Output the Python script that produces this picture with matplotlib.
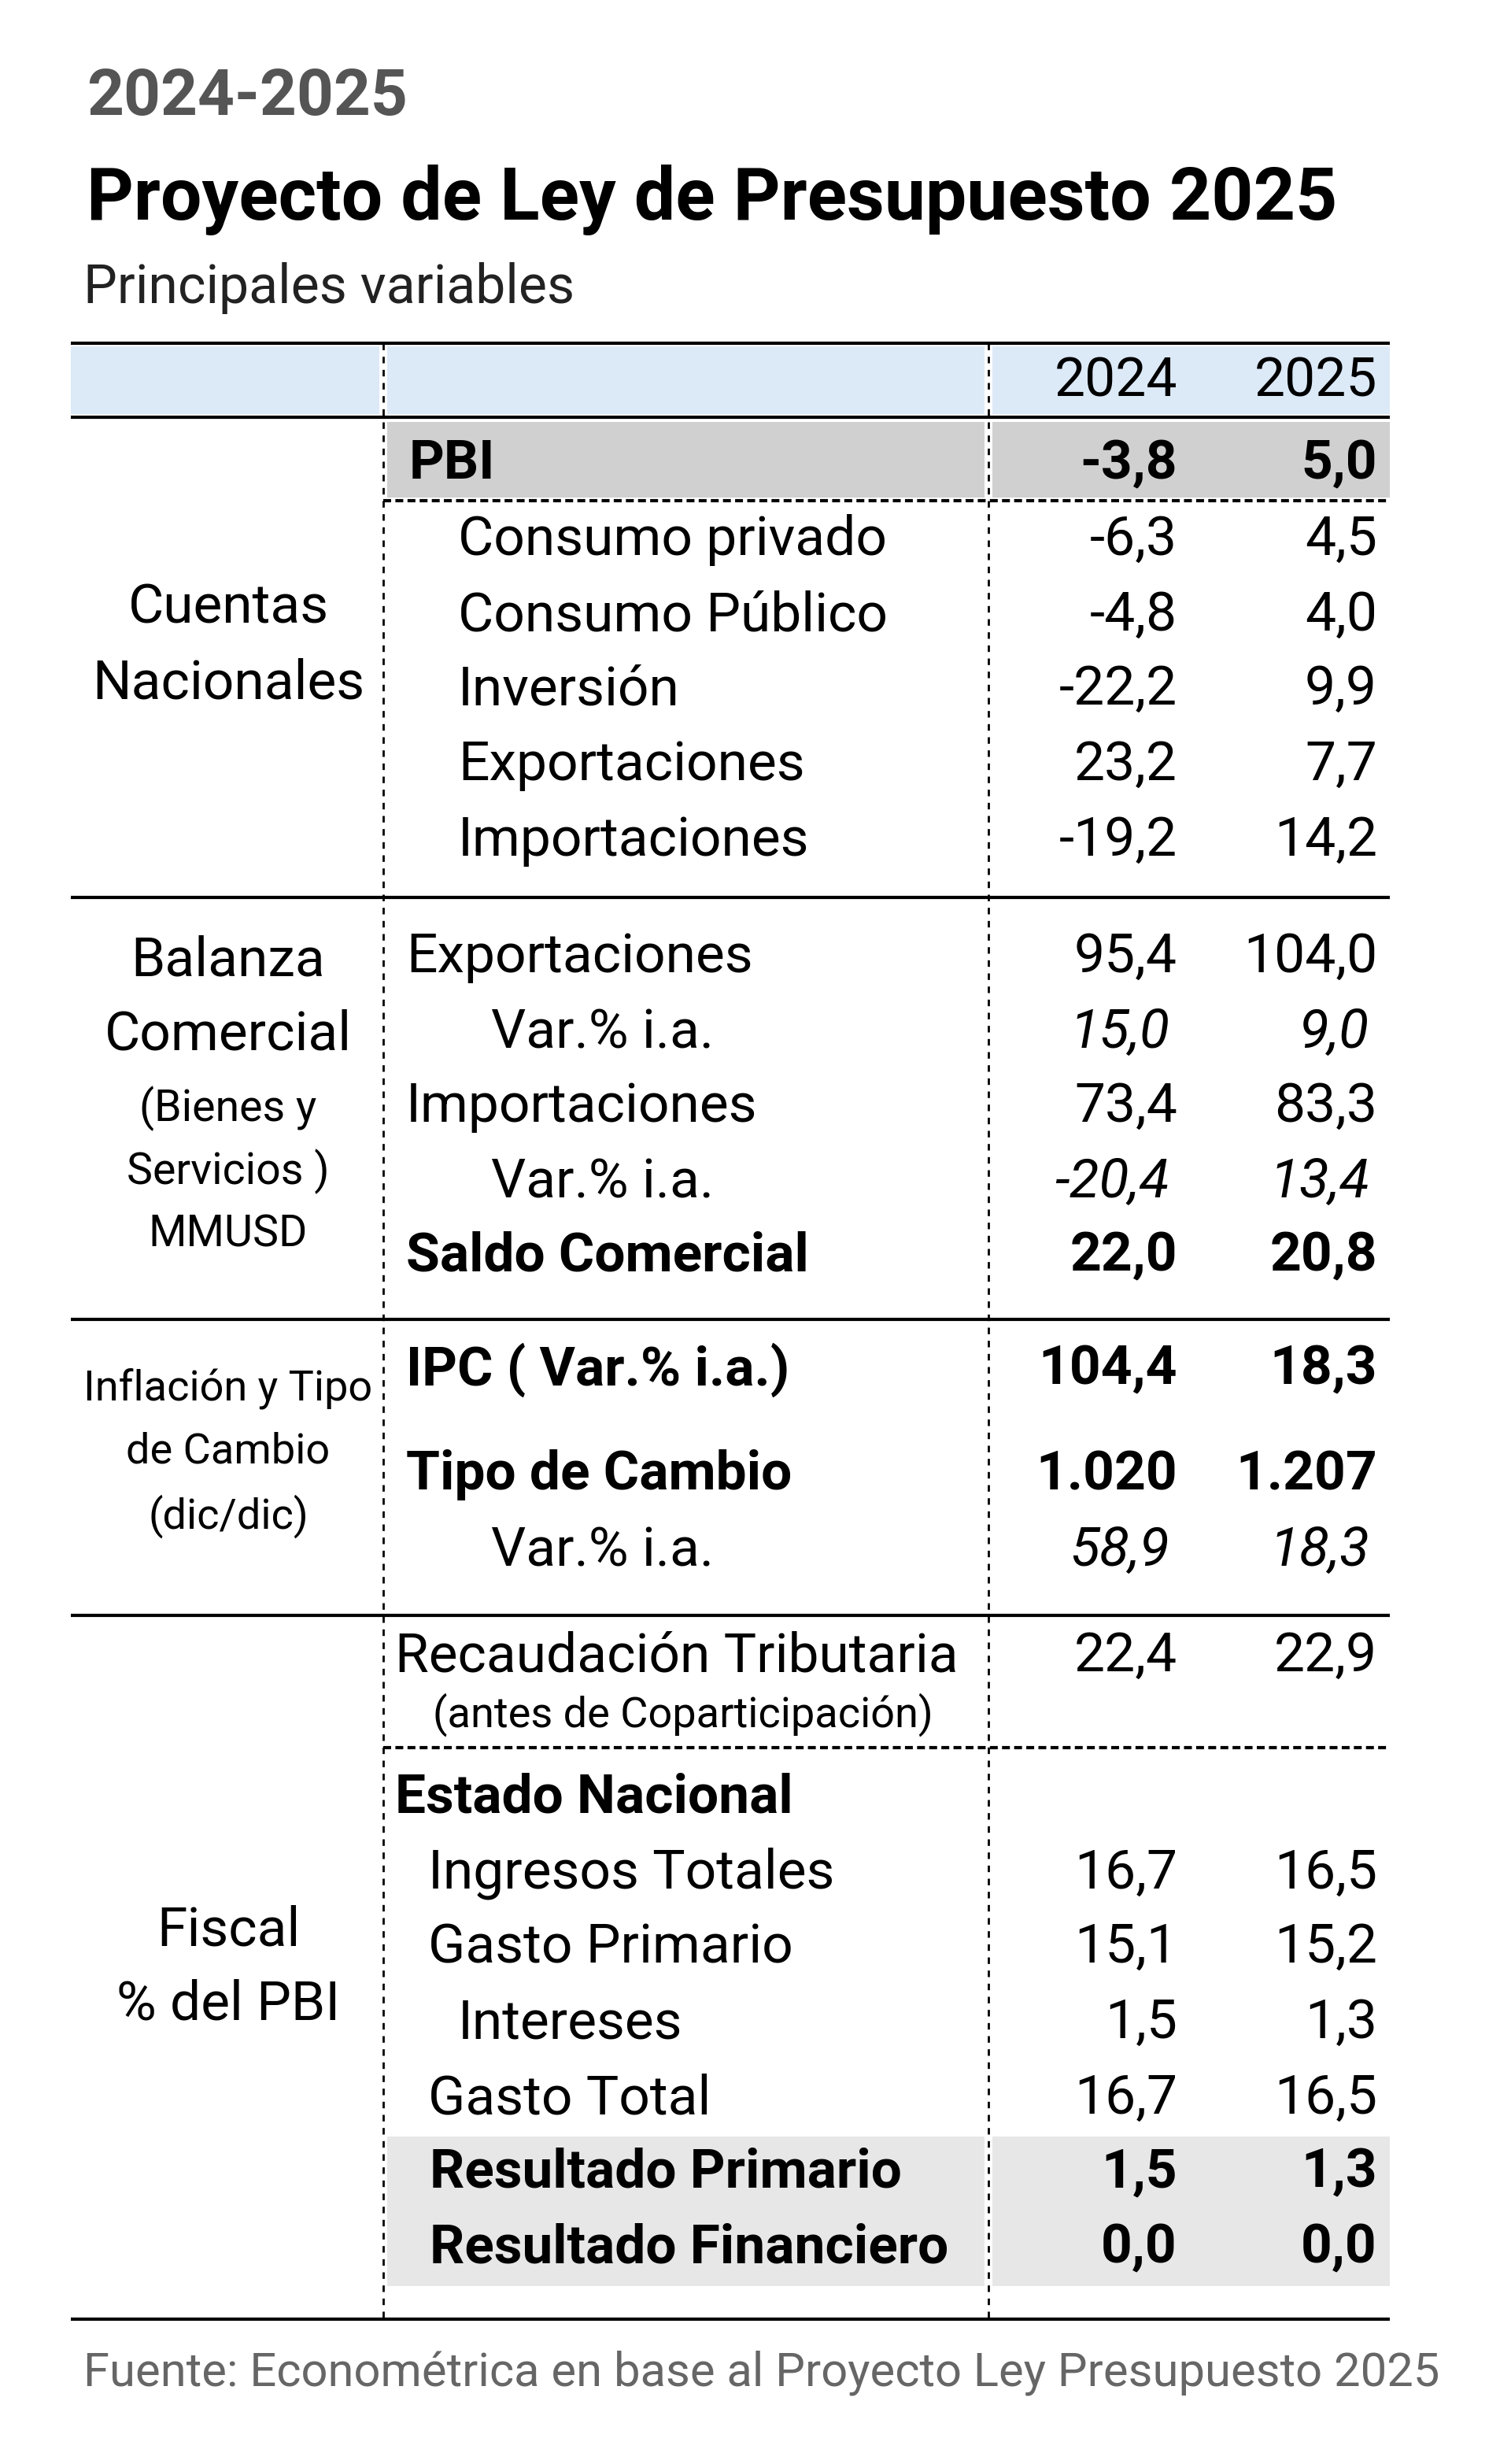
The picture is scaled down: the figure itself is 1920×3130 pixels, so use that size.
import matplotlib
matplotlib.use("Agg")
import matplotlib.pyplot as plt
from matplotlib.patches import Rectangle

plt.rcParams["font.family"] = ["Roboto", "DejaVu Sans"]

# ---- data ----
years = ["2024", "2025"]
row_labels = ["PBI", "Consumo privado", "Consumo Público", "Inversión", "Exportaciones",
              "Importaciones", "Exportaciones", "Var.% i.a.", "Importaciones", "Var.% i.a.",
              "Saldo Comercial", "IPC ( Var.% i.a.)", "Tipo de Cambio", "Var.% i.a.",
              "Recaudación Tributaria", "Estado Nacional", "Ingresos Totales", "Gasto Primario",
              "Intereses", "Gasto Total", "Resultado Primario", "Resultado Financiero"]
val_2024 = [-3.8, -6.3, -4.8, -22.2, 23.2, -19.2, 95.4, 15.0, 73.4, -20.4, 22.0,
            104.4, 1020, 58.9, 22.4, None, 16.7, 15.1, 1.5, 16.7, 1.5, 0.0]
val_2025 = [5.0, 4.5, 4.0, 9.9, 7.7, 14.2, 104.0, 9.0, 83.3, 13.4, 20.8,
            18.3, 1207, 18.3, 22.9, None, 16.5, 15.2, 1.3, 16.5, 1.3, 0.0]
section_names = [["Cuentas", "Nacionales"],
                 ["Balanza", "Comercial", "(Bienes y", "Servicios )", "MMUSD"],
                 ["Inflación y Tipo", "de Cambio", "(dic/dic)"],
                 ["Fiscal", "% del PBI"]]

# ---- layout (pixels) ----
W, H = 1920, 3130
row_y = [590, 686, 782, 876, 972, 1068, 1216, 1312, 1406, 1502, 1596,
         1740, 1874, 1970, 2104, 2284, 2380, 2474, 2570, 2666, 2760, 2856]
row_x = [520, 582, 582, 582, 582, 582, 516, 624, 516, 624, 516,
         516, 516, 624, 502, 502, 544, 544, 582, 544, 546, 546]
bold_rows = {0, 10, 11, 12, 15, 20, 21}
italic_vals = {7, 9, 13}
sec_y = [[772, 868], [1220, 1314, 1408, 1488, 1568], [1764, 1844, 1926], [2452, 2546]]
sec_size = [[50, 50], [50, 50, 40, 40, 40], [39, 39, 39], [50, 50]]

L, R, V1, V2 = 90, 1766, 487, 1256
TOP, BOT = 436, 2946
C1, C2 = 1496, 1750
FS = 50


def fmt(v):
    if v is None:
        return ""
    if abs(v) >= 1000:
        return f"{v:,.0f}".replace(",", ".")
    return f"{v:.1f}".replace(".", ",")


fig = plt.figure(figsize=(W / 100, H / 100), dpi=100)
ax = fig.add_axes([0, 0, 1, 1])
ax.set_xlim(0, W)
ax.set_ylim(H, 0)
ax.axis("off")


def band(y0, y1, x0, x1, color):
    # split at the dashed separators, leaving a thin white gap
    edges = [x0] + [v for v in (V1, V2) if x0 < v < x1] + [x1]
    for a, b in zip(edges[:-1], edges[1:]):
        a2 = a + 5 if a in (V1, V2) else a
        b2 = b - 5 if b in (V1, V2) else b
        ax.add_patch(Rectangle((a2, y0), b2 - a2, y1 - y0, color=color, lw=0, zorder=0))


band(440, 526, L, R, "#dce9f7")
band(536, 632, V1, R, "#d0d0d0")
band(2714, 2904, V1, R, "#e7e7e7")

# titles
ax.text(110, 124, "2024-2025", fontsize=59, fontweight="bold", color="#555555", va="center")
ax.text(110, 254, "Proyecto de Ley de Presupuesto 2025", fontsize=67, fontweight="bold",
        color="black", va="center")
ax.text(106, 366, "Principales variables", fontsize=49, color="#222222", va="center")
ax.text(106, 3014, "Fuente: Econométrica en base al Proyecto Ley Presupuesto 2025",
        fontsize=43, color="#666666", va="center")

# header
ax.text(C1, 484, years[0], fontsize=FS, ha="right", va="center")
ax.text(C2, 484, years[1], fontsize=FS, ha="right", va="center")

# rows
for i, lab in enumerate(row_labels):
    w = "bold" if i in bold_rows else "normal"
    ax.text(row_x[i], row_y[i], lab, fontsize=FS, fontweight=w, va="center")
    st = "italic" if i in italic_vals else "normal"
    off = 10 if i in italic_vals else 0
    ax.text(C1 - off, row_y[i], fmt(val_2024[i]), fontsize=FS, fontweight=w, fontstyle=st,
            ha="right", va="center")
    ax.text(C2 - off, row_y[i], fmt(val_2025[i]), fontsize=FS, fontweight=w, fontstyle=st,
            ha="right", va="center")
ax.text(550, 2178, "(antes de Coparticipación)", fontsize=39, va="center")

# section labels
for names, ys, ss in zip(section_names, sec_y, sec_size):
    for n, y, s in zip(names, ys, ss):
        ax.text(290, y, n, fontsize=s, ha="center", va="center")

# rules
for y in [TOP, 530, 1140, 1676, 2052, BOT]:
    ax.plot([L, R], [y, y], color="black", lw=3, solid_capstyle="butt")
for y in [636, 2220]:
    ax.plot([V1, R], [y, y], color="black", lw=3, linestyle=(0, (2.4, 1.3)),
            dash_capstyle="butt")
for x in [V1, V2]:
    ax.plot([x, x], [TOP, BOT], color="black", lw=2, linestyle=(0, (3, 3)),
            dash_capstyle="butt")

fig.savefig("out.png", dpi=100, facecolor="white")
